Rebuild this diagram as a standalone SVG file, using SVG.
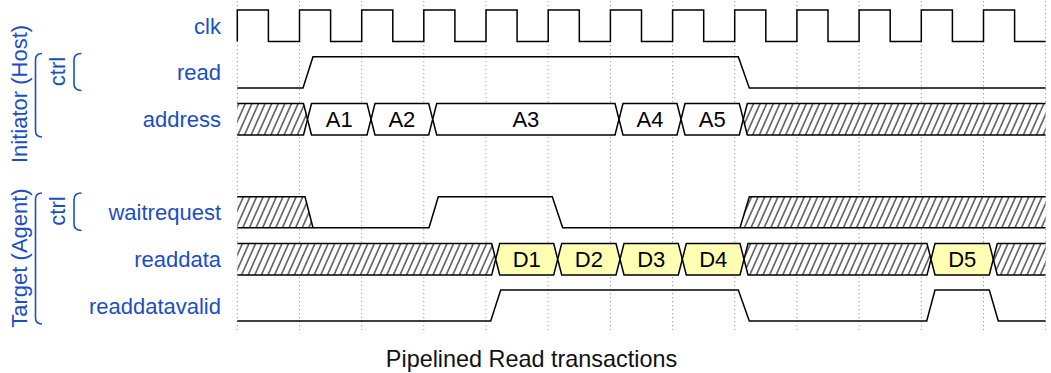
<svg xmlns="http://www.w3.org/2000/svg" width="1051" height="373" viewBox="0 0 1051 373">
  <style>
    .lbl { font-family: "Liberation Sans", Arial, Helvetica, sans-serif; font-size: 22px; fill: #1b4ec6; }
    .sig { text-anchor: end; }
    .grp { text-anchor: middle; }
    .val { font-family: "Liberation Sans", Arial, Helvetica, sans-serif; font-size: 22px; fill: #000; text-anchor: middle; }
    .title { font-family: "Liberation Sans", Arial, Helvetica, sans-serif; font-size: 23.4px; fill: #111; text-anchor: middle; }
    .brace { fill: none; stroke: #1b4ec6; stroke-width: 1.6; }
    .grid line { stroke: #9a9a9a; stroke-width: 1; stroke-dasharray: 1.2 2.8; }
    .wave { fill: none; stroke: #000; stroke-width: 1.5; stroke-linejoin: miter; }
    .hx { fill: url(#hatch); stroke: none; }
    .seg { fill: #fff; stroke: #000; stroke-width: 1.5; }
    .dat { fill: #ffffb4; stroke: #000; stroke-width: 1.5; }
    .hseg { fill: url(#hatch); stroke: #000; stroke-width: 1.5; }
  </style>
  <defs>
    <!-- diagonal "don't care" hatching -->
    <pattern id="hatch" patternUnits="userSpaceOnUse" width="6.6" height="40" patternTransform="skewX(-24)">
      <rect x="0" y="0" width="6.6" height="40" fill="#fff"/>
      <line x1="1" y1="0" x2="1" y2="40" stroke="#000" stroke-width="1.1"/>
    </pattern>
  </defs>

  <rect width="1051" height="373" fill="#fff"/>

  <!-- clock-edge grid -->
  <g id="grid" class="grid">
    <line x1="237.3" y1="1" x2="237.3" y2="330"/>
    <line x1="299.5" y1="1" x2="299.5" y2="330"/>
    <line x1="361.7" y1="1" x2="361.7" y2="330"/>
    <line x1="423.8" y1="1" x2="423.8" y2="330"/>
    <line x1="486" y1="1" x2="486" y2="330"/>
    <line x1="548.2" y1="1" x2="548.2" y2="330"/>
    <line x1="610.4" y1="1" x2="610.4" y2="330"/>
    <line x1="672.6" y1="1" x2="672.6" y2="330"/>
    <line x1="734.7" y1="1" x2="734.7" y2="330"/>
    <line x1="796.9" y1="1" x2="796.9" y2="330"/>
    <line x1="859.1" y1="1" x2="859.1" y2="330"/>
    <line x1="921.3" y1="1" x2="921.3" y2="330"/>
    <line x1="983.5" y1="1" x2="983.5" y2="330"/>
    <line x1="1045.6" y1="1" x2="1045.6" y2="330"/>
  </g>

  <!-- group labels and braces -->
  <g id="group-initiator">
    <text class="lbl grp" transform="translate(27,94) rotate(-90)">Initiator (Host)</text>
    <path class="brace" d="M42,53.5 C37.5,53.5 35.5,56 35.5,60 V130.5 C35.5,134.5 37.5,137 42,137"/>
    <text class="lbl grp" transform="translate(65,71.5) rotate(-90)">ctrl</text>
    <path class="brace" d="M81.5,53.5 C76,53.5 74,56 74,60 V84 C74,88 76,90.5 81.5,90.5"/>
  </g>
  <g id="group-target">
    <text class="lbl grp" transform="translate(27,258) rotate(-90)">Target (Agent)</text>
    <path class="brace" d="M42,193 C37.5,193 35.5,195.5 35.5,199.5 V317.5 C35.5,321.5 37.5,324 42,324"/>
    <text class="lbl grp" transform="translate(65,211) rotate(-90)">ctrl</text>
    <path class="brace" d="M81.5,193 C76,193 74,195.5 74,199.5 V224 C74,228 76,230.5 81.5,230.5"/>
  </g>

  <!-- clk -->
  <g id="clk">
    <text class="lbl sig" x="221" y="33.5">clk</text>
    <path class="wave" d="M237.3,41.5 V10 H268.4 V41.5 H299.5 V10 H330.6 V41.5 H361.7 V10 H392.8 V41.5 H423.8 V10 H454.9 V41.5 H486 V10 H517.1 V41.5 H548.2 V10 H579.3 V41.5 H610.4 V10 H641.5 V41.5 H672.6 V10 H703.7 V41.5 H734.7 V10 H765.8 V41.5 H796.9 V10 H828 V41.5 H859.1 V10 H890.2 V41.5 H921.3 V10 H952.4 V41.5 H983.5 V10 H1014.6 V41.5 H1045.6"/>
  </g>

  <!-- read -->
  <g id="read">
    <text class="lbl sig" x="221" y="80.3">read</text>
    <path class="wave" d="M237.3,88 H303 L313,56.7 H738.3 L749.3,88 H1045.6"/>
  </g>

  <!-- address bus -->
  <g id="address">
    <text class="lbl sig" x="221" y="127.2">address</text>
    <polygon class="hx" points="237.3,103.5 303.5,103.5 307.5,119.25 303.5,135 237.3,135"/>
    <path class="wave" d="M237.3,103.5 H303.5 L307.5,119.25 L303.5,135 H237.3"/>
    <polygon class="seg" points="311.5,103.5 367,103.5 371,119.25 367,135 311.5,135 307.5,119.25"/>
    <polygon class="seg" points="375,103.5 428.7,103.5 432.7,119.25 428.7,135 375,135 371,119.25"/>
    <polygon class="seg" points="436.7,103.5 615,103.5 619,119.25 615,135 436.7,135 432.7,119.25"/>
    <polygon class="seg" points="623,103.5 677,103.5 681,119.25 677,135 623,135 619,119.25"/>
    <polygon class="seg" points="685,103.5 739.3,103.5 743.3,119.25 739.3,135 685,135 681,119.25"/>
    <polygon class="hx" points="747.3,103.5 1045.6,103.5 1045.6,135 747.3,135 743.3,119.25"/>
    <path class="wave" d="M1045.6,103.5 H747.3 L743.3,119.25 L747.3,135 H1045.6"/>
    <text class="val" x="339.3" y="127">A1</text>
    <text class="val" x="401.9" y="127">A2</text>
    <text class="val" x="525.9" y="127">A3</text>
    <text class="val" x="650" y="127">A4</text>
    <text class="val" x="712.2" y="127">A5</text>
  </g>

  <!-- waitrequest -->
  <g id="waitrequest">
    <text class="lbl sig" x="221" y="220">waitrequest</text>
    <polygon class="hx" points="237.3,196.7 305,196.7 313,227.7 237.3,227.7"/>
    <polygon class="hx" points="740,227.7 749.3,196.7 1045.6,196.7 1045.6,227.7"/>
    <path class="wave" d="M237.3,196.7 H305 L313,227.7"/>
    <path class="wave" d="M237.3,227.7 H429 L438.3,196.7 H552.3 L562.7,227.7 H1045.6"/>
    <path class="wave" d="M740,227.7 L749.3,196.7 H1045.6"/>
  </g>

  <!-- readdata bus -->
  <g id="readdata">
    <text class="lbl sig" x="221" y="267">readdata</text>
    <polygon class="hx" points="237.3,243.5 491.7,243.5 495.7,259.25 491.7,275 237.3,275"/>
    <path class="wave" d="M237.3,243.5 H491.7 L495.7,259.25 L491.7,275 H237.3"/>
    <polygon class="dat" points="499.7,243.5 553.7,243.5 557.7,259.25 553.7,275 499.7,275 495.7,259.25"/>
    <polygon class="dat" points="561.7,243.5 616,243.5 620,259.25 616,275 561.7,275 557.7,259.25"/>
    <polygon class="dat" points="624,243.5 678.3,243.5 682.3,259.25 678.3,275 624,275 620,259.25"/>
    <polygon class="dat" points="686.3,243.5 740,243.5 744,259.25 740,275 686.3,275 682.3,259.25"/>
    <polygon class="hseg" points="748,243.5 927,243.5 931,259.25 927,275 748,275 744,259.25"/>
    <polygon class="dat" points="935,243.5 989.3,243.5 993.3,259.25 989.3,275 935,275 931,259.25"/>
    <polygon class="hx" points="997.3,243.5 1045.6,243.5 1045.6,275 997.3,275 993.3,259.25"/>
    <path class="wave" d="M1045.6,243.5 H997.3 L993.3,259.25 L997.3,275 H1045.6"/>
    <text class="val" x="526.7" y="267">D1</text>
    <text class="val" x="588.9" y="267">D2</text>
    <text class="val" x="651.2" y="267">D3</text>
    <text class="val" x="713.2" y="267">D4</text>
    <text class="val" x="962.2" y="267">D5</text>
  </g>

  <!-- readdatavalid -->
  <g id="readdatavalid">
    <text class="lbl sig" x="221" y="313.5">readdatavalid</text>
    <path class="wave" d="M237.3,321 H490.7 L500.7,290 H738.3 L749.3,321 H926.7 L935,290 H989.3 L998.3,321 H1045.6"/>
  </g>

  <g id="caption">
    <text class="title" x="531.5" y="366.5">Pipelined Read transactions</text>
  </g>
</svg>
